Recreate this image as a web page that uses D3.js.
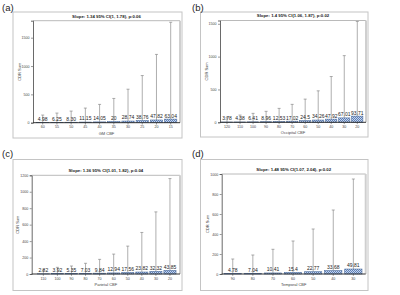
<!DOCTYPE html>
<html>
<head>
<meta charset="utf-8">
<script src="https://cdn.jsdelivr.net/npm/d3@7/dist/d3.min.js"></script>
<style>
  html, body { margin: 0; padding: 0; background: #fff; }
  svg { display: block; font-family: "Liberation Sans", Arial, sans-serif; }
</style>
</head>
<body>
<svg id="chart" width="400" height="295"></svg>
<script>
// ---------- data ----------
const catsA = ["60","55","50","45","40","35","30","25","20","15"];
const meanA = [4.98, 6.25, 8.30, 11.15, 14.05, 20, 28.74, 38.76, 47.82, 63.04];
const labelA = ["4.98","6.25","8.30","11.15","14.05","20","28.74","38.76","47.82","63.04"];
const upperA = [135, 170, 205, 258, 323, 428, 591, 832, 1205, 1772];
const ticksA = [0, 500, 1000, 1500];

const catsB = ["120","110","100","90","80","70","60","50","40","30","20"];
const meanB = [3.78, 4.38, 6.41, 8.96, 12.53, 17.02, 24.5, 34.26, 47.92, 67.01, 93.71];
const labelB = ["3.78","4.38","6.41","8.96","12.53","17.02","24.5","34.26","47.92","67.01","93.71"];
const upperB = [70, 110, 136, 167, 212, 273, 353, 479, 697, 1015, 1535];
const ticksB = [0, 500, 1000, 1500];

const catsC = ["110","100","90","80","70","60","50","40","30","20"];
const meanC = [2.82, 3.92, 5.35, 7.03, 9.84, 12.94, 17.56, 23.82, 32.32, 43.85];
const labelC = ["2.82","3.92","5.35","7.03","9.84","12.94","17.56","23.82","32.32","43.85"];
const upperC = [48, 81, 97, 130, 178, 242, 339, 505, 755, 1160];
const ticksC = [0, 200, 400, 600, 800, 1000, 1200];

const catsD = ["90","80","70","60","50","40","30"];
const meanD = [4.78, 7.04, 10.41, 15.4, 22.77, 33.68, 49.81];
const labelD = ["4.78","7.04","10.41","15.4","22.77","33.68","49.81"];
const upperD = [150, 190, 247, 330, 450, 640, 950];
const ticksD = [0, 200, 400, 600, 800, 1000];

const titles = [
  "Slope: 1.34 95% CI(1, 1.78), p:0.06",
  "Slope: 1.4 95% CI(1.06, 1.87), p:0.02",
  "Slope: 1.36 95% CI(1.01, 1.82), p:0.04",
  "Slope: 1.48 95% CI(1.07, 2.04), p:0.02"
];
const xTitles = ["GM CBF", "Occipital CBF", "Parietal CBF", "Temporal CBF"];
const panelLetters = ["(a)", "(b)", "(c)", "(d)"];
const yTitle = "CDR Sum";
const yMaxes = [1800, 1550, 1200, 1000];

// ---------- layout (positions only) ----------
const layout = [
  { box: [13, 12, 169, 126], lab: [2, 11], L: 33, R: 180, T: 20.7, B: 122.7, inL: 2.6, inR: 2.2 },
  { box: [200.5, 12, 167.5, 125], lab: [192, 11], L: 220, R: 366, T: 20.5, B: 122.3, inL: 0.5, inR: 2.2 },
  { box: [13, 159.5, 169, 131], lab: [2, 157], L: 31.7, R: 180, T: 175.3, B: 274, inL: 4.6, inR: 3 },
  { box: [200.5, 159.5, 167.5, 131], lab: [192, 157], L: 221.7, R: 365.7, T: 174, B: 274, inL: 1, inR: 2.3 }
];

const panels = [
  { cats: catsA, mean: meanA, labels: labelA, upper: upperA, ticks: ticksA },
  { cats: catsB, mean: meanB, labels: labelB, upper: upperB, ticks: ticksB },
  { cats: catsC, mean: meanC, labels: labelC, upper: upperC, ticks: ticksC },
  { cats: catsD, mean: meanD, labels: labelD, upper: upperD, ticks: ticksD }
];

const svg = d3.select("#chart");

// checker pattern for bars
const defs = svg.append("defs");
const pat = defs.append("pattern")
  .attr("id", "check").attr("patternUnits", "userSpaceOnUse")
  .attr("width", 2).attr("height", 2);
pat.append("rect").attr("width", 2).attr("height", 2).attr("fill", "#c7d5ec");
pat.append("rect").attr("width", 1).attr("height", 1).attr("fill", "#5c7fb8");
pat.append("rect").attr("x", 1).attr("y", 1).attr("width", 1).attr("height", 1).attr("fill", "#5c7fb8");

panels.forEach((p, i) => {
  const lo = layout[i];
  const g = svg.append("g");

  // outer box
  g.append("rect")
    .attr("x", lo.box[0]).attr("y", lo.box[1])
    .attr("width", lo.box[2]).attr("height", lo.box[3])
    .attr("fill", "none").attr("stroke", "#c4c4c4").attr("stroke-width", 1);

  // panel letter
  g.append("text")
    .attr("x", lo.lab[0]).attr("y", lo.lab[1])
    .attr("font-size", 9.5).attr("fill", "#222")
    .text(panelLetters[i]);

  const x = d3.scaleBand()
    .domain(p.cats)
    .range([lo.L + lo.inL, lo.R - lo.inR])
    .paddingInner(0.14).paddingOuter(0.07);
  const y = d3.scaleLinear().domain([0, yMaxes[i]]).range([lo.B, lo.T]);

  // plot frame (top + right)
  g.append("line").attr("x1", lo.L).attr("x2", lo.R).attr("y1", lo.T).attr("y2", lo.T)
    .attr("stroke", "#a8a8a8").attr("stroke-width", 0.8);
  g.append("line").attr("x1", lo.R).attr("x2", lo.R).attr("y1", lo.T).attr("y2", lo.B)
    .attr("stroke", "#cfcfcf").attr("stroke-width", 2);

  // title
  g.append("text")
    .attr("x", (lo.L + lo.R) / 2).attr("y", lo.T - 3.2)
    .attr("text-anchor", "middle").attr("font-size", 4.3).attr("font-weight", "bold")
    .attr("fill", "#222")
    .text(titles[i]);

  // y axis
  const yAxis = d3.axisLeft(y).tickValues(p.ticks).tickSize(2).tickPadding(1.5)
    .tickFormat(d3.format("d"));
  const ya = g.append("g").attr("transform", `translate(${lo.L},0)`).call(yAxis);
  ya.select(".domain").attr("stroke", "#444").attr("stroke-width", 0.8);
  ya.selectAll(".tick line").attr("stroke", "#555").attr("stroke-width", 0.6);
  ya.selectAll(".tick text").attr("font-size", 3.6).attr("fill", "#444")
    .attr("font-family", "Liberation Sans, Arial, sans-serif");

  // y title
  g.append("text")
    .attr("transform", `translate(${lo.L - 12.5},${(lo.T + lo.B) / 2}) rotate(-90)`)
    .attr("text-anchor", "middle").attr("font-size", 4).attr("fill", "#444")
    .text(yTitle);

  // whiskers
  const idx = d3.range(p.cats.length);
  g.selectAll(".wh").data(idx).enter().append("line")
    .attr("x1", d => x(p.cats[d]) + x.bandwidth() / 2)
    .attr("x2", d => x(p.cats[d]) + x.bandwidth() / 2)
    .attr("y1", d => y(p.mean[d]))
    .attr("y2", d => y(p.upper[d]))
    .attr("stroke", "#9a9a9a").attr("stroke-width", 0.8);
  g.selectAll(".cap").data(idx).enter().append("line")
    .attr("x1", d => x(p.cats[d]) + x.bandwidth() / 2 - 1.5)
    .attr("x2", d => x(p.cats[d]) + x.bandwidth() / 2 + 1.5)
    .attr("y1", d => y(p.upper[d]))
    .attr("y2", d => y(p.upper[d]))
    .attr("stroke", "#8a8a8a").attr("stroke-width", 0.7);

  // bars
  g.selectAll(".bar").data(idx).enter().append("rect")
    .attr("x", d => x(p.cats[d]))
    .attr("width", x.bandwidth())
    .attr("y", d => y(p.mean[d]))
    .attr("height", d => y(0) - y(p.mean[d]))
    .attr("fill", "url(#check)")
    .attr("stroke", "#4e6e9e").attr("stroke-width", 0.6);

  // value labels
  g.selectAll(".vl").data(idx).enter().append("text")
    .attr("x", d => x(p.cats[d]) + x.bandwidth() / 2)
    .attr("y", d => y(p.mean[d]) - 1.6)
    .attr("text-anchor", "middle").attr("font-size", 5.0).attr("fill", "#222")
    .text(d => p.labels[d]);

  // x axis
  const xAxis = d3.axisBottom(x).tickSize(1.8).tickPadding(1.2);
  const xa = g.append("g").attr("transform", `translate(0,${lo.B})`).call(xAxis);
  xa.select(".domain").remove();
  xa.selectAll(".tick line").attr("stroke", "#555").attr("stroke-width", 0.6);
  xa.selectAll(".tick text").attr("font-size", 3.6).attr("fill", "#444")
    .attr("font-family", "Liberation Sans, Arial, sans-serif");
  g.append("line").attr("x1", lo.L).attr("x2", lo.R).attr("y1", lo.B).attr("y2", lo.B)
    .attr("stroke", "#333").attr("stroke-width", 1);

  // x title
  g.append("text")
    .attr("x", (lo.L + lo.R) / 2).attr("y", lo.B + 12)
    .attr("text-anchor", "middle").attr("font-size", 4).attr("fill", "#444")
    .text(xTitles[i]);
});
</script>
</body>
</html>
